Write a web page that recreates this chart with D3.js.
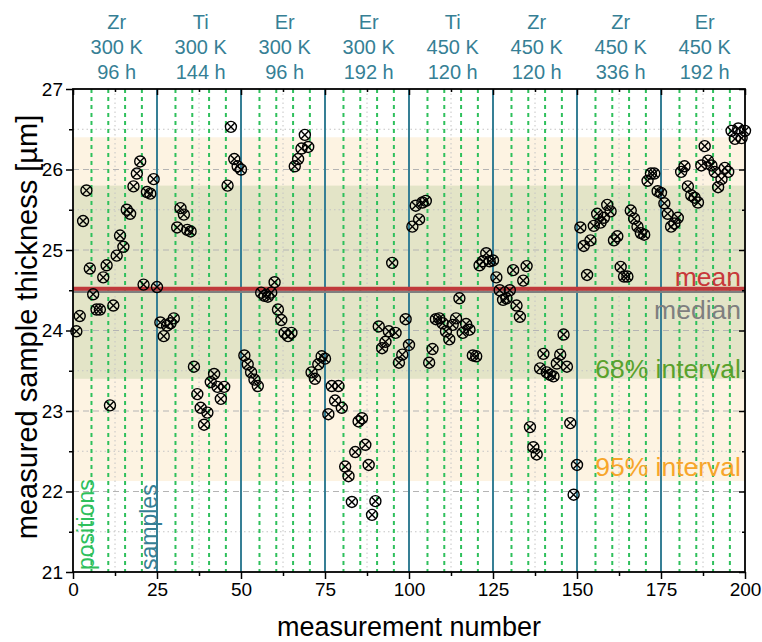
<!DOCTYPE html>
<html><head><meta charset="utf-8">
<script src="https://cdn.jsdelivr.net/npm/d3@7"></script>
<style>body{margin:0;background:#fff}svg{display:block;font-family:Arial,"Liberation Sans",sans-serif}</style>
</head><body><svg id="c" width="762" height="642"></svg>
<script>
const thickness = [
23.99,24.18,25.36,25.74,24.77,24.45,24.26,24.26,24.66,24.81,
23.07,24.31,24.93,25.18,25.04,25.50,25.45,25.79,25.95,26.10,
24.57,25.72,25.70,25.88,24.54,
24.10,23.93,24.06,24.09,24.15,25.28,25.52,25.44,25.25,25.23,
23.55,23.21,23.04,22.83,22.98,23.36,23.46,23.30,23.15,23.30,
25.80,26.53,26.13,26.04,26.00,
23.69,23.58,23.48,23.39,23.31,24.47,24.43,24.42,24.47,24.60,
24.26,24.13,23.97,23.93,23.97,26.04,26.13,26.26,26.43,26.28,
23.48,23.40,23.58,23.68,23.65,
22.96,23.31,23.13,23.31,23.04,22.31,22.19,21.87,22.49,22.87,
22.91,22.58,22.33,21.71,21.88,24.05,23.78,23.86,23.99,24.84,
23.97,23.60,23.70,24.14,23.82,
25.29,25.55,25.38,25.59,25.61,23.60,23.77,24.14,24.15,24.09,
23.99,23.89,24.07,24.15,24.40,23.97,24.08,24.01,23.69,23.68,
24.81,24.86,24.96,24.86,24.87,
24.66,24.50,24.38,24.40,24.50,24.75,24.31,24.17,24.62,24.80,
22.80,22.55,22.46,23.53,23.71,23.48,23.45,23.43,23.59,23.70,
23.95,23.55,22.85,21.96,22.33,
25.28,25.05,24.69,25.12,25.30,25.45,25.34,25.40,25.56,25.48,
25.12,25.17,24.79,24.67,24.67,25.49,25.39,25.29,25.21,25.19,
25.86,25.95,25.95,25.73,25.71,
25.58,25.45,25.29,25.33,25.40,25.97,26.04,25.79,25.68,25.65,
25.59,26.05,26.29,26.11,26.05,25.97,25.78,25.88,26.02,25.97,
26.48,26.38,26.51,26.39,26.48
];
const sampleElements = ["Zr","Ti","Er","Er","Ti","Zr","Zr","Er"];
const sampleTemps = ["300 K","300 K","300 K","300 K","450 K","450 K","450 K","450 K"];
const sampleTimes = ["96 h","144 h","96 h","192 h","120 h","120 h","336 h","192 h"];
const meanValue = 24.52;
const medianValue = 24.48;
const interval68 = [23.40, 25.80];
const interval95 = [22.13, 26.40];
const xTicks = [0,25,50,75,100,125,150,175,200];
const yTicks = [21,22,23,24,25,26,27];

const svg = d3.select("#c");
const L=73, R=745, T=89, B=572;
const x = d3.scaleLinear().domain([0,200]).range([L,R]);
const y = d3.scaleLinear().domain([21,27]).range([B,T]);
const teal = "#367f95";

// bands
svg.append("rect").attr("x",L).attr("width",R-L).attr("y",y(interval95[1])).attr("height",y(interval95[0])-y(interval95[1])).attr("fill","#fdf3e2");
svg.append("rect").attr("x",L).attr("width",R-L).attr("y",y(interval68[1])).attr("height",y(interval68[0])-y(interval68[1])).attr("fill","#e3e4c7");

// grid
const g = svg.append("g");
d3.range(21.5,27,1).forEach(v=>g.append("line").attr("x1",L).attr("x2",R).attr("y1",y(v)).attr("y2",y(v)).attr("stroke","#c4c4c4").attr("stroke-width",1).attr("stroke-dasharray","1.5,3"));
d3.range(22,27,1).forEach(v=>g.append("line").attr("x1",L).attr("x2",R).attr("y1",y(v)).attr("y2",y(v)).attr("stroke","#b4b4b4").attr("stroke-width",1).attr("stroke-dasharray","6,4"));
d3.range(12.5,200,25).forEach(v=>g.append("line").attr("x1",x(v)).attr("x2",x(v)).attr("y1",T).attr("y2",B).attr("stroke","#c4c4c4").attr("stroke-width",1).attr("stroke-dasharray","1.5,3"));

// position lines
d3.range(5,200,5).filter(v=>v%25!==0).forEach(v=>g.append("line").attr("x1",x(v+0.5)).attr("x2",x(v+0.5)).attr("y1",T).attr("y2",B).attr("stroke","#2fc05c").attr("stroke-width",2).attr("stroke-dasharray","4,4"));
// sample lines
d3.range(25,200,25).forEach(v=>g.append("line").attr("x1",x(v)).attr("x2",x(v)).attr("y1",T).attr("y2",B).attr("stroke",teal).attr("stroke-width",2));

// mean/median
svg.append("line").attr("x1",L).attr("x2",R).attr("y1",y(medianValue)).attr("y2",y(medianValue)).attr("stroke","#7f7f7f").attr("stroke-width",2.5);
svg.append("line").attr("x1",L).attr("x2",R).attr("y1",y(meanValue)).attr("y2",y(meanValue)).attr("stroke","#c0393b").attr("stroke-width",4);

// labels in plot
const lab = (t,yy,c)=>svg.append("text").attr("x",R-4).attr("y",yy).attr("text-anchor","end").attr("font-size",26.5).attr("fill",c).text(t);
lab("mean", 286, "#c8383a");
lab("median", 319, "#7f7f7f");
lab("68% interval", 378, "#5aa12c");
lab("95% interval", 476, "#f7a52a");

svg.append("text").attr("transform",`translate(94,${B-2}) rotate(-90)`).attr("font-size",23).attr("fill","#2fc05c").text("positions");
svg.append("text").attr("transform",`translate(157,${B-2}) rotate(-90)`).attr("font-size",23).attr("fill",teal).text("samples");

// points
const pts = svg.append("g");
thickness.forEach((v,i)=>{
  const cx=x(i+1), cy=y(v), r=5.5, d=3.8;
  const p=pts.append("g").attr("transform",`translate(${cx},${cy})`).attr("stroke","#000").attr("stroke-width",1.4).attr("fill","none");
  p.append("circle").attr("r",r);
  p.append("path").attr("d",`M${-d},${-d}L${d},${d}M${-d},${d}L${d},${-d}`);
});

// axes
const ax = svg.append("g");
const style = s=>{s.select(".domain").remove();s.selectAll("text").attr("font-size",19).attr("fill","#000").attr("font-family","Arial,Liberation Sans");s.selectAll("line").attr("stroke-width",1.5);};
ax.append("g").attr("transform",`translate(0,${B})`).call(d3.axisBottom(x).tickValues(xTicks).tickSize(7).tickPadding(4)).call(style);
ax.append("g").attr("transform",`translate(0,${B})`).call(d3.axisBottom(x).tickValues(d3.range(12.5,200,25)).tickSize(4).tickFormat("")).call(style);
ax.append("g").attr("transform",`translate(0,${T})`).call(d3.axisBottom(x).tickValues(xTicks).tickSize(6).tickFormat("")).call(style);
ax.append("g").attr("transform",`translate(0,${T})`).call(d3.axisBottom(x).tickValues(d3.range(12.5,200,25)).tickSize(3).tickFormat("")).call(style);
ax.append("g").attr("transform",`translate(${L},0)`).call(d3.axisLeft(y).tickValues(yTicks).tickSize(7).tickPadding(3).tickFormat(d3.format("d"))).call(style);
ax.append("g").attr("transform",`translate(${L},0)`).call(d3.axisLeft(y).tickValues(d3.range(21.5,27,1)).tickSize(4).tickFormat("")).call(style);
ax.append("g").attr("transform",`translate(${R},0)`).call(d3.axisLeft(y).tickValues(yTicks).tickSize(6).tickFormat("")).call(style);
ax.append("g").attr("transform",`translate(${R},0)`).call(d3.axisLeft(y).tickValues(d3.range(21.5,27,1)).tickSize(3).tickFormat("")).call(style);
svg.append("rect").attr("x",L).attr("y",T).attr("width",R-L).attr("height",B-T).attr("fill","none").attr("stroke","#000").attr("stroke-width",1.8);

// titles
svg.append("text").attr("x",409).attr("y",636).attr("text-anchor","middle").attr("font-size",27).text("measurement number");
svg.append("text").attr("transform",`translate(37,327) rotate(-90)`).attr("text-anchor","middle").attr("font-size",29).text("measured sample thickness [µm]");

// sample labels
sampleElements.forEach((e,i)=>{
  const cx = x(i*25+13);
  [e, sampleTemps[i], sampleTimes[i]].forEach((t,j)=>svg.append("text").attr("x",cx).attr("y",28.5+j*25).attr("text-anchor","middle").attr("font-size",20).attr("fill",teal).text(t));
});
</script></body></html>
